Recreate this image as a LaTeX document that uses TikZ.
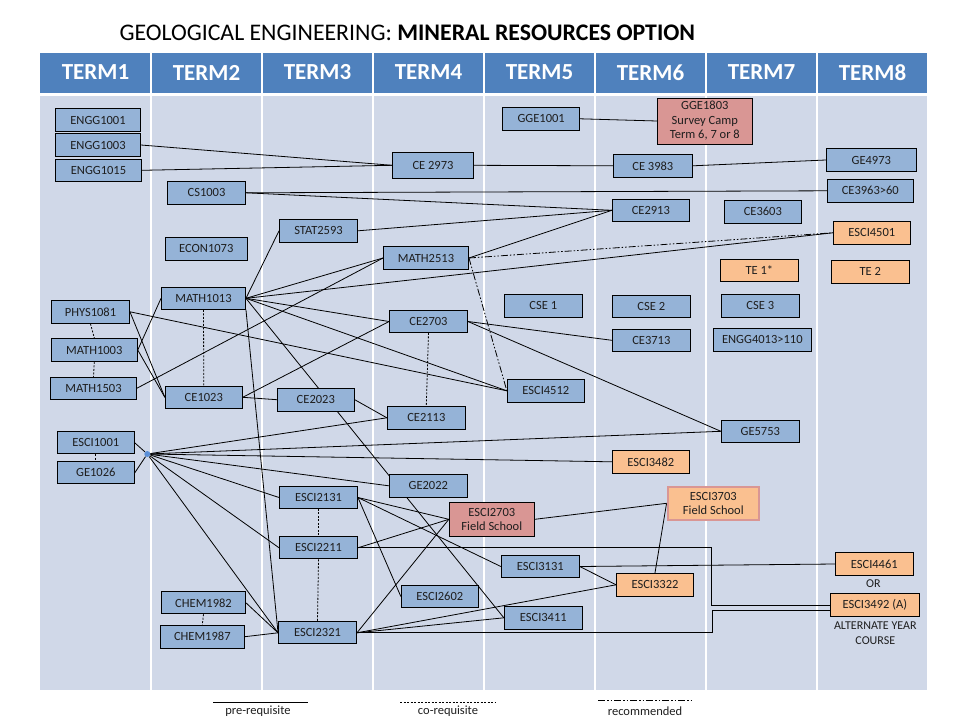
\documentclass[tikz,border=0pt]{standalone}
\usepackage{fontspec}
\setmainfont{Carlito}
\usetikzlibrary{calc}
\usetikzlibrary{positioning}

\definecolor{hdrblue}{HTML}{4F81BD}
\definecolor{panelgrey}{HTML}{D0D8E8}
\definecolor{boxblue}{HTML}{95B3D7}
\definecolor{boxorange}{HTML}{FAC090}
\definecolor{boxpink}{HTML}{D99694}
\definecolor{hubblue}{HTML}{5B8FD6}
\definecolor{txtdark}{HTML}{1E1E1E}

\pgfdeclarelayer{panel}
\pgfdeclarelayer{edges}
\pgfsetlayers{panel,edges,main}

\begin{document}
\begin{tikzpicture}[x=1pt, y=-1pt,
    course/.style={draw, fill=boxblue, minimum width=78pt, minimum height=23pt, inner sep=1pt, line width=0.9pt, text=txtdark, font=\fontsize{12.5}{14.5}\selectfont},
    elective/.style={course, fill=boxorange},
    camp/.style={course, fill=boxpink, align=center},
    termhead/.style={text=white, font=\fontsize{23}{26}\selectfont\bfseries},
    note/.style={text=txtdark, font=\fontsize{12.5}{15}\selectfont},
    prereq/.style={line width=0.8pt},
    coreq/.style={line width=0.8pt, dash pattern=on 2pt off 1.5pt},
    recom/.style={line width=0.8pt, dash pattern=on 7pt off 2pt on 1.5pt off 2pt on 1.5pt off 2pt}]
    \useasboundingbox (0,0) rectangle (960,720);

    % title
    \node[anchor=west, text=black, font=\fontsize{23.8}{27}\selectfont] (title) at (116,32.5) {GEOLOGICAL ENGINEERING: \textbf{MINERAL RESOURCES OPTION}};

    % table of terms
    \begin{pgfonlayer}{panel}
        \fill[hdrblue] (40,53) rectangle (927,92.5);
        \fill[panelgrey] (40,96) rectangle (927,689.5);
        \foreach \x in {151,262,...,817}
            \draw[white, line width=1.5pt] (\x,53) -- (\x,689.5);
    \end{pgfonlayer}
    \node[termhead] (term1) at (95.5,72.5) {TERM1};
    \node[termhead] (term2) at (206.5,72.5) {TERM2};
    \node[termhead] (term3) at (317.5,72.5) {TERM3};
    \node[termhead] (term4) at (428.5,72.5) {TERM4};
    \node[termhead] (term5) at (539.5,72.5) {TERM5};
    \node[termhead] (term6) at (650.5,72.5) {TERM6};
    \node[termhead] (term7) at (761.5,72.5) {TERM7};
    \node[termhead] (term8) at (872.5,72.5) {TERM8};

    % term 1
    \node[course, minimum width=85pt] (engg1001) at (98,120) {ENGG1001};
    \node[course, minimum width=85pt] (engg1003) at (98,145) {ENGG1003};
    \node[course, minimum width=86pt, minimum height=22pt] (engg1015) at (98.5,170.3) {ENGG1015};
    \node[course] (phys1081) at (90.5,311.8) {PHYS1081};
    \node[course, minimum width=86pt] (math1003) at (94.3,350) {MATH1003};
    \node[course, minimum width=86pt, minimum height=22pt] (math1503) at (93.5,388.2) {MATH1503};
    \node[course, minimum width=77pt, minimum height=22pt] (esci1001) at (95.8,442.8) {ESCI1001};
    \node[course, minimum width=77pt, minimum height=22pt] (ge1026) at (95.8,472.8) {GE1026};
    \node[circle, fill=hubblue, inner sep=0pt, minimum size=6pt] (hub) at (147.3,454) {};

    % term 2
    \node[course] (cs1003) at (206.5,192.8) {CS1003};
    \node[course, minimum width=82pt] (econ1073) at (206.3,248.8) {ECON1073};
    \node[course, minimum width=84pt, minimum height=22pt] (math1013) at (203.5,298.3) {MATH1013};
    \node[course, minimum width=77pt, minimum height=22pt] (ce1023) at (203.8,397.3) {CE1023};
    \node[course, minimum width=84pt, minimum height=22pt] (chem1982) at (203.5,602.8) {CHEM1982};
    \node[course, minimum width=84pt] (chem1987) at (202.3,636.7) {CHEM1987};

    % term 3
    \node[course] (stat2593) at (318.5,230.8) {STAT2593};
    \node[course, minimum width=77pt] (ce2023) at (315.8,399.7) {CE2023};
    \node[course, minimum height=22pt] (esci2131) at (318.5,497.5) {ESCI2131};
    \node[course, minimum height=22pt] (esci2211) at (318.5,547.8) {ESCI2211};
    \node[course, minimum height=22pt] (esci2321) at (317.5,632.8) {ESCI2321};

    % term 4
    \node[course, minimum width=81pt, minimum height=26pt] (ce2973) at (433,165.3) {CE 2973};
    \node[course, minimum width=85pt] (math2513) at (426,258) {MATH2513};
    \node[course, minimum height=22pt] (ce2703) at (428.5,321.5) {CE2703};
    \node[course] (ce2113) at (426.3,417.8) {CE2113};
    \node[course] (ge2022) at (428.3,485.8) {GE2022};
    \node[camp, minimum width=85pt, minimum height=34pt] (esci2703) at (491.8,519.3) {ESCI2703\\Field School};
    \node[course, minimum width=77pt, minimum height=22pt] (esci2602) at (439.8,596.5) {ESCI2602};

    % term 5
    \node[course, minimum width=77pt] (gge1001) at (541.2,118.8) {GGE1001};
    \node[course] (cse1) at (543.3,305.8) {CSE 1};
    \node[course, minimum width=77pt] (esci4512) at (545.8,390.8) {ESCI4512};
    \node[course, minimum height=22pt] (esci3131) at (540.3,566.5) {ESCI3131};
    \node[course] (esci3411) at (543.3,617.8) {ESCI3411};

    % term 6
    \node[camp, minimum width=95pt, minimum height=46pt] (gge1803) at (704.8,121) {GGE1803\\Survey Camp\\Term 6, 7 or 8};
    \node[course, minimum width=79pt] (ce3983) at (652.8,165.8) {CE 3983};
    \node[course, minimum width=77pt, minimum height=22pt] (ce2913) at (650.8,210.3) {CE2913};
    \node[course, minimum height=22pt] (cse2) at (651.3,306.3) {CSE 2};
    \node[course, minimum height=22pt] (ce3713) at (651.3,340.3) {CE3713};
    \node[elective, minimum width=77pt] (esci3482) at (650.8,461.8) {ESCI3482};
    \node[elective, minimum width=77pt] (esci3322) at (655,584.8) {ESCI3322};

    % term 7
    \node[course, minimum width=77pt] (ce3603) at (762.8,211.8) {CE3603};
    \node[elective, minimum height=22pt] (te1) at (759.3,270.3) {TE 1*};
    \node[course] (cse3) at (760.3,305.8) {CSE 3};
    \node[course, minimum width=98pt] (engg4013) at (762.3,339.8) {ENGG4013>110};
    \node[course, minimum height=22pt] (ge5753) at (760.3,431.3) {GE5753};
    \node[elective, draw=boxpink, line width=2.5pt, align=center, minimum width=91pt, minimum height=33pt] (esci3703) at (713.3,503.3) {ESCI3703\\Field School};

    % term 8
    \node[course, minimum width=90pt] (ge4973) at (871.3,160) {GE4973};
    \node[course, minimum width=86pt] (ce3963) at (870.3,190.8) {CE3963>60};
    \node[elective, minimum width=77pt] (esci4501) at (871.8,232.8) {ESCI4501};
    \node[elective] (te2) at (870.3,271.8) {TE 2};
    \node[elective] (esci4461) at (874.3,564) {ESCI4461};
    \node[note, font=\fontsize{12}{15}\selectfont] (or) at (873.3,583.8) {OR};
    \node[elective, minimum width=89pt] (esci3492) at (874.8,605) {ESCI3492 (A)};
    \node[note, align=center, font=\fontsize{12}{15}\selectfont] (altyear) at (875.3,633) {ALTERNATE YEAR\\COURSE};

    \begin{pgfonlayer}{edges}
        % pre-requisites
        \draw[prereq] (engg1003.east) -- (ce2973.west);
        \draw[prereq] (engg1015.east) -- (ce2973.west);
        \draw[prereq] (ce2973.east) -- (ce3983.west);
        \draw[prereq] (ce3983.east) -- (ge4973.west);
        \draw[prereq] (gge1001.east) -- (gge1803.west);
        \draw[prereq] (cs1003.east) -- (ce3963.west);
        \draw[prereq] (cs1003.east) -- (ce2913.west);
        \draw[prereq] (stat2593.east) -- (ce2913.west);
        \draw[prereq] (math2513.east) -- (ce2913.west);
        \draw[prereq] (math1013.east) -- (stat2593.west);
        \draw[prereq] (math1013.east) -- (math2513.west);
        \draw[prereq] (math1013.east) -- (esci4501.west);
        \draw[prereq] (math1013.east) -- (ce2703.west);
        \draw[prereq] (math1013.east) -- (esci4512.west);
        \draw[prereq] (math1013.east) -- (esci3411.west);
        \draw[prereq] (math1013.south east) -- (esci2321.west);
        \draw[prereq] (math1003.east) -- (math1013.west);
        \draw[prereq] (math1003.east) -- (ce1023.west);
        \draw[prereq] (phys1081.east) -- (ce1023.west);
        \draw[prereq] (phys1081.east) -- (esci4512.west);
        \draw[prereq] (math1503.east) -- (math2513.west);
        \draw[prereq] (ce1023.east) -- (ce2703.west);
        \draw[prereq] (ce1023.east) -- (ce2023.west);
        \draw[prereq] (ce2023.east) -- (ce2113.west);
        \draw[prereq] (ce2703.east) -- (ce3713.west);
        \draw[prereq] (ce2703.east) -- (ge5753.west);
        \draw[prereq] (esci1001.east) -- (hub);
        \draw[prereq] (ge1026.east) -- (hub);
        \draw[prereq] (hub) -- (ce2113.west);
        \draw[prereq] (hub) -- (ge5753.west);
        \draw[prereq] (hub) -- (esci3482.west);
        \draw[prereq] (hub) -- (ge2022.west);
        \draw[prereq] (hub) -- (esci2131.west);
        \draw[prereq] (hub) -- (esci2211.west);
        \draw[prereq] (hub) -- (esci2321.west);
        \draw[prereq] (chem1982.east) -- (esci2321.west);
        \draw[prereq] (chem1987.east) -- (esci2321.west);
        \draw[prereq] (esci2131.east) -- (esci2703.west);
        \draw[prereq] (esci2131.east) -- (esci3131.west);
        \draw[prereq] (esci2131.east) -- (esci2602.west);
        \draw[prereq] (esci2211.east) -- (esci2703.west);
        \draw[prereq] (esci2321.east) -- (esci2703.west);
        \draw[prereq] (esci2321.east) -- (esci3322.west);
        \draw[prereq] (esci2321.east) -- (esci3411.west);
        \draw[prereq] (esci3131.east) -- (esci3322.west);
        \draw[prereq] (esci3131.east) -- (esci4461.west);
        \draw[prereq] (esci2703.east) -- (esci3703.west);
        \draw[prereq] (esci3322.north) -- (esci3703.west);
        \draw[prereq] (esci2211.east) -| ($(esci3492.west)+(-118,0)$) -- (esci3492.west);
        \draw[prereq] (esci2321.east) -| ($(esci3492.west)+(-117,5)$) -- ($(esci3492.west)+(0,5)$);

        % co-requisites
        \draw[coreq] (phys1081.south) -- (math1003.north);
        \draw[coreq] (math1003.south) -- (math1503.north);
        \draw[coreq] (math1013.south) -- (ce1023.north);
        \draw[coreq] (esci1001.south) -- (ge1026.north);
        \draw[coreq] (chem1982.south) -- (chem1987.north);
        \draw[coreq] (esci2131.south) -- (esci2211.north);
        \draw[coreq] (esci2211.south) -- (esci2321.north);
        \draw[coreq] (ce2703.south) -- (ce2113.north);

        % recommended
        \draw[recom] (math2513.east) -- (esci4501.west);
        \draw[recom] (math2513.east) -- (esci4512.west);
    \end{pgfonlayer}

    % legend
    \coordinate (pre a) at (213,702);
    \coordinate (pre b) at (308,702);
    \coordinate (co a) at (400,702);
    \coordinate (co b) at (496,702);
    \coordinate (rec a) at (598,700);
    \coordinate (rec b) at (691,700);
    \draw[prereq] (pre a) -- (pre b);
    \draw[coreq] (co a) -- (co b);
    \draw[recom] (rec a) -- (rec b);
    \node[note] (pre) at (258,711.5) {pre-requisite};
    \node[note] (co) at (448,711.5) {co-requisite};
    \node[note] (rec) at (645,711.5) {recommended};
\end{tikzpicture}
\end{document}
